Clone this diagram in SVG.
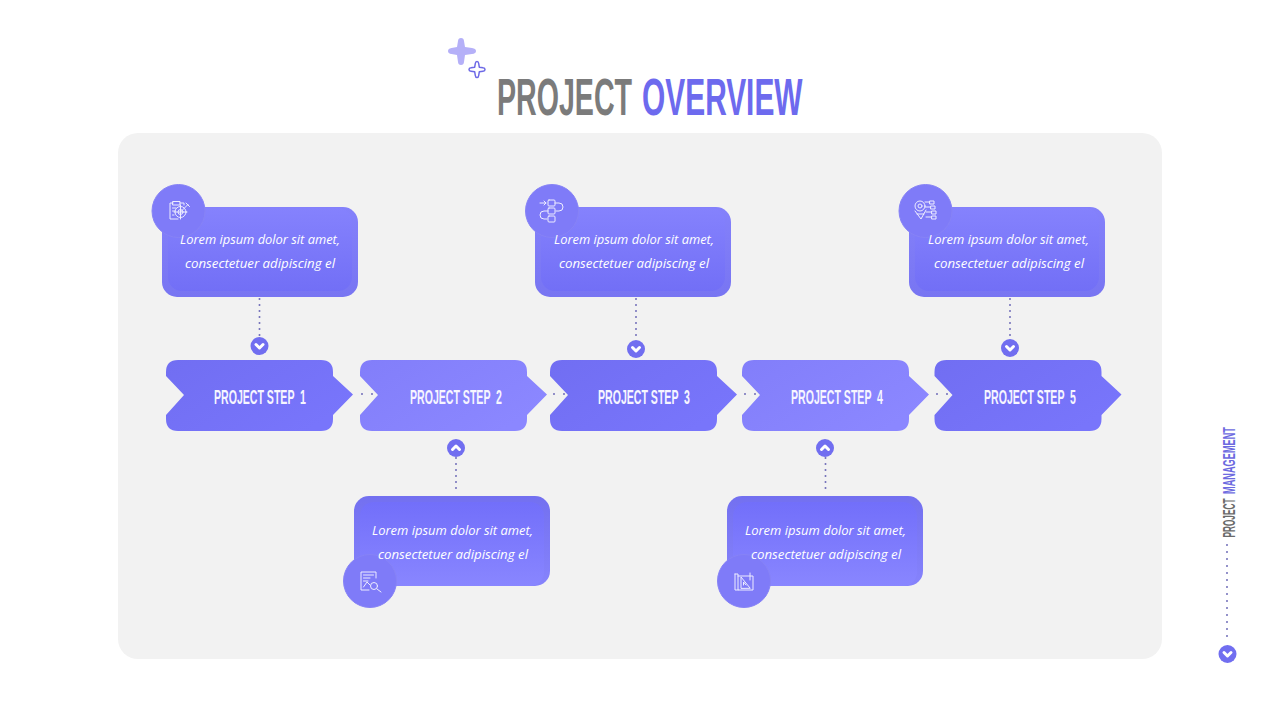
<svg xmlns="http://www.w3.org/2000/svg" width="1280" height="720" viewBox="0 0 1280 720">
<style>
.h{font-family:"Liberation Sans",Arial,sans-serif;font-weight:700}
.s{font-size:20.500px;fill:#f6f5ff}
.b{font-family:"Open Sans","Noto Sans",sans-serif;font-style:italic;font-size:13px;fill:#fff}
.d{fill:none;stroke:#706db8;stroke-width:2;stroke-linecap:round;stroke-dasharray:0 6}
.dh{stroke-dasharray:0 10}
.ds{stroke-dasharray:0 7}
.c{fill:none;stroke:#fff;stroke-width:3;stroke-linecap:round;stroke-linejoin:round}
.i{fill:none;stroke:#eeedff;stroke-width:1;stroke-linecap:round;stroke-linejoin:round}
.btn{fill:#716ef0}
.ic{fill:#7f7bf8;stroke:#8783f6;stroke-width:1}
</style>
<defs>
<linearGradient id="g1" x1="0" y1="0" x2="1" y2="0.6"><stop offset="0" stop-color="#716ef2"/><stop offset="1" stop-color="#7875fb"/></linearGradient>
<linearGradient id="g2" x1="0" y1="0" x2="1" y2="0.6"><stop offset="0" stop-color="#827efa"/><stop offset="1" stop-color="#8b87ff"/></linearGradient>
<linearGradient id="o1" x1="0" y1="0" x2="0" y2="1"><stop offset="0" stop-color="#8481fb"/><stop offset="1" stop-color="#7875f2"/></linearGradient>
<linearGradient id="i1" x1="0" y1="0" x2="0" y2="1"><stop offset="0" stop-color="#8582fd"/><stop offset="1" stop-color="#726ff6"/></linearGradient>
<linearGradient id="o2" x1="0" y1="0" x2="0" y2="1"><stop offset="0" stop-color="#7370f0"/><stop offset="1" stop-color="#8683fc"/></linearGradient>
<linearGradient id="i2" x1="0" y1="0" x2="0" y2="1"><stop offset="0" stop-color="#726ffa"/><stop offset="1" stop-color="#8986ff"/></linearGradient>
<path id="ar" d="M12 0H155Q167 0 167 12V16L187 34.500L167 55V59Q167 71 155 71H12Q0 71 0 59V55L18 35L0 16V12Q0 0 12 0Z"/>
<path id="dn" class="c" d="M-3.500 -1.500L0 2L3.500 -1.500"/>
<path id="up" class="c" d="M-3.500 1.500L0 -2L3.500 1.500"/>
</defs>

<rect width="1280" height="720" fill="#fff"/>
<rect id="panel" x="118" y="133" width="1044" height="526" rx="20" fill="#f2f2f2"/>

<g id="title">
<path fill="#b5b0f8" d="M461 38Q463.800 38 464 41L465 47L472 48Q476 48.500 476 51Q476 53.500 472 54L465 55L464 62Q463.800 65 461 65Q458.200 65 458 62L457 55L451.500 54Q448 53.500 448 51Q448 48.500 451.500 48L457 47L458 41Q458.200 38 461 38Z"/>
<path fill="none" stroke="#6d69e6" stroke-width="1.500" stroke-linejoin="round" d="M477 61.500Q478.500 61.500 478.700 63.500L479.300 67.200L483 67.800Q485 68 485 69.500Q485 71 483 71.200L479.300 71.800L478.700 75.500Q478.500 77.500 477 77.500Q475.500 77.500 475.300 75.500L474.700 71.800L471 71.200Q469 71 469 69.500Q469 68 471 67.800L474.700 67.200L475.300 63.500Q475.500 61.500 477 61.500Z"/>
<text class="h" transform="translate(497 115) scale(.55 1)" font-size="52" fill="#7b7b7b">PROJECT</text>
<text class="h" transform="translate(642 115) scale(.575 1)" font-size="52" fill="#6d6aee">OVERVIEW</text>
</g>

<g id="connectors">
<path class="d" d="M259.500 299V337"/>
<path class="d" d="M636 299V340"/>
<path class="d" d="M1010 299V339"/>
<path class="d" d="M456 458V492"/>
<path class="d" d="M825.500 458V492"/>
<path class="d dh" d="M362 394H372.500"/>
<path class="d dh" d="M554 394H564.500"/>
<path class="d dh" d="M745 394H755.500"/>
<path class="d dh" d="M937 394H947.500"/>
<path class="d ds" d="M1227 545V641"/>
</g>

<g id="step1"><use href="#ar" x="166" y="360" fill="url(#g1)"/><text class="h s" x="214" y="404" textLength="92" lengthAdjust="spacingAndGlyphs" xml:space="preserve">PROJECT STEP  1</text></g>
<g id="step2"><use href="#ar" x="360" y="360" fill="url(#g2)"/><text class="h s" x="410" y="404" textLength="92" lengthAdjust="spacingAndGlyphs" xml:space="preserve">PROJECT STEP  2</text></g>
<g id="step3"><use href="#ar" x="550" y="360" fill="url(#g1)"/><text class="h s" x="598" y="404" textLength="92" lengthAdjust="spacingAndGlyphs" xml:space="preserve">PROJECT STEP  3</text></g>
<g id="step4"><use href="#ar" x="742" y="360" fill="url(#g2)"/><text class="h s" x="791" y="404" textLength="92" lengthAdjust="spacingAndGlyphs" xml:space="preserve">PROJECT STEP  4</text></g>
<g id="step5"><use href="#ar" x="934.500" y="360" fill="url(#g1)"/><text class="h s" x="984" y="404" textLength="92" lengthAdjust="spacingAndGlyphs" xml:space="preserve">PROJECT STEP  5</text></g>

<g id="btn1"><circle class="btn" cx="259.500" cy="346" r="9"/><use href="#dn" x="259.500" y="346"/></g>
<g id="btn2"><circle class="btn" cx="456" cy="448" r="9"/><use href="#up" x="456" y="448"/></g>
<g id="btn3"><circle class="btn" cx="636" cy="349" r="9"/><use href="#dn" x="636" y="349"/></g>
<g id="btn4"><circle class="btn" cx="825" cy="448" r="9"/><use href="#up" x="825" y="448"/></g>
<g id="btn5"><circle class="btn" cx="1010" cy="348" r="9"/><use href="#dn" x="1010" y="348"/></g>
<g id="btn6"><circle class="btn" cx="1227.500" cy="654" r="9"/><use href="#dn" x="1227.500" y="654"/></g>

<g id="note1">
<rect x="162" y="207" width="196" height="90" rx="15" fill="url(#o1)"/>
<rect x="168" y="208" width="184" height="83" rx="14" fill="url(#i1)"/>
<circle class="ic" cx="178.500" cy="211" r="26.500"/>
<path class="i" d="M178 219H170V203H173M180 203H184V205M173 201.500H180V205H173ZM172.500 208H176M172.500 211H175M172.500 215H174"/>
<circle class="i" cx="180.500" cy="212" r="5.500"/><circle class="i" cx="180.500" cy="212" r="2.500"/>
<path class="i" d="M180.500 212L188 204.500M186 203L189.500 206.500M180.500 205V219M174 212H187"/>
<text class="b" x="180" y="244" textLength="160" lengthAdjust="spacingAndGlyphs">Lorem ipsum dolor sit amet,</text>
<text class="b" x="185" y="268" textLength="150" lengthAdjust="spacingAndGlyphs">consectetuer adipiscing el</text>
</g>

<g id="note2">
<rect x="354" y="496" width="196" height="90" rx="15" fill="url(#o2)"/>
<rect x="360" y="502" width="184" height="84" rx="14" fill="url(#i2)"/>
<circle class="ic" cx="370" cy="581" r="26.500"/>
<path class="i" d="M376 578V572H361V590H369M363.500 575H373.500M363.500 578H370M363.500 581H368M363.500 587L367 582L370 585"/>
<circle class="i" cx="374" cy="586" r="3.500"/>
<path class="i" d="M377 589L381 592"/>
<text class="b" x="372" y="535" textLength="161" lengthAdjust="spacingAndGlyphs">Lorem ipsum dolor sit amet,</text>
<text class="b" x="378" y="559" textLength="150" lengthAdjust="spacingAndGlyphs">consectetuer adipiscing el</text>
</g>

<g id="note3">
<rect x="535" y="207" width="196" height="90" rx="15" fill="url(#o1)"/>
<rect x="541" y="208" width="184" height="83" rx="14" fill="url(#i1)"/>
<circle class="ic" cx="552" cy="211" r="26.500"/>
<rect class="i" x="548" y="200" width="7" height="6" rx="1"/><rect class="i" x="548" y="208" width="7" height="6" rx="1"/><rect class="i" x="548" y="216" width="7" height="6" rx="1"/>
<path class="i" d="M540 203H546M544 201L546 203L544 205M555 203H559Q563 203 563 207Q563 211 559 211H556M548 211H544Q540 211 540 215Q540 219 544 219H547"/>
<text class="b" x="554" y="244" textLength="160" lengthAdjust="spacingAndGlyphs">Lorem ipsum dolor sit amet,</text>
<text class="b" x="559" y="268" textLength="150" lengthAdjust="spacingAndGlyphs">consectetuer adipiscing el</text>
</g>

<g id="note4">
<rect x="727" y="496" width="196" height="90" rx="15" fill="url(#o2)"/>
<rect x="733" y="502" width="184" height="84" rx="14" fill="url(#i2)"/>
<circle class="ic" cx="744" cy="581" r="26.500"/>
<path class="i" d="M735 574H738V590H753V576H738M735 574V590H738M741 588L741 577L750 588ZM743.500 585L743.500 582L746 585M750 573V580"/>
<text class="b" x="745" y="535" textLength="161" lengthAdjust="spacingAndGlyphs">Lorem ipsum dolor sit amet,</text>
<text class="b" x="751" y="559" textLength="150" lengthAdjust="spacingAndGlyphs">consectetuer adipiscing el</text>
</g>

<g id="note5">
<rect x="909" y="207" width="196" height="90" rx="15" fill="url(#o1)"/>
<rect x="915" y="208" width="184" height="83" rx="14" fill="url(#i1)"/>
<circle class="ic" cx="925.500" cy="211" r="26.500"/>
<circle class="i" cx="920" cy="206" r="5"/><circle class="i" cx="920" cy="206" r="2"/>
<path class="i" d="M915 211L921 219L926 210M917 214H924M925 202H929M925 207H930M926 212H931M926 217H931M930 201H934V204H930ZM931 206H935V209H931ZM932 211H936V214H932ZM932 216H936V219H932Z"/>
<text class="b" x="928" y="244" textLength="161" lengthAdjust="spacingAndGlyphs">Lorem ipsum dolor sit amet,</text>
<text class="b" x="934" y="268" textLength="150" lengthAdjust="spacingAndGlyphs">consectetuer adipiscing el</text>
</g>

<g id="side">
<text class="h" transform="translate(1235 537.500) rotate(-90) scale(.5 1)" font-size="16.500" fill="#6a6a6a">PROJECT</text>
<text class="h" transform="translate(1235 494) rotate(-90) scale(.558 1)" font-size="16.500" fill="#6d6ae0">MANAGEMENT</text>
</g>
</svg>
